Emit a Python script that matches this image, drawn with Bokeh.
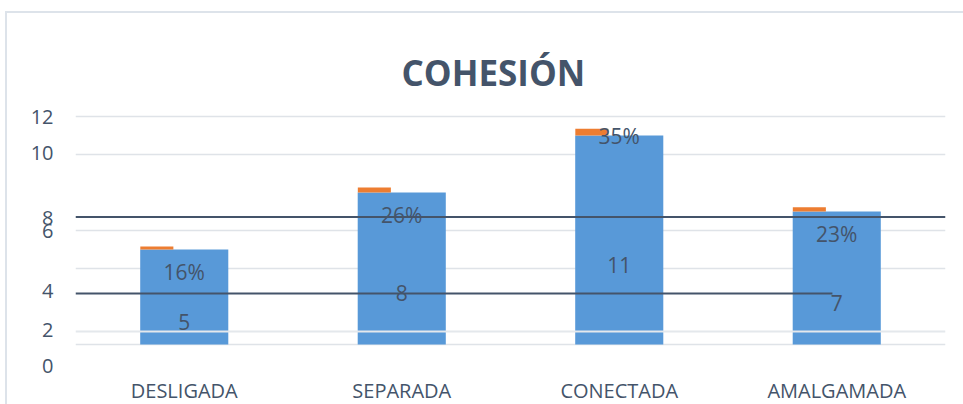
from bokeh.plotting import figure
from bokeh.models import ColumnDataSource, FixedTicker, Span
from bokeh.transform import dodge
from bokeh.core.properties import value
from bokeh.embed import file_html
from bokeh.resources import INLINE

# ---- data ----
categories = ["DESLIGADA", "SEPARADA", "CONECTADA", "AMALGAMADA"]
counts = [5, 8, 11, 7]
percents = [16, 26, 35, 23]
title_text = "COHESIÓN"

# y tick labels (as they appear in the picture) and their positions on the value scale
ytick_labels = ["12", "10", "8", "6", "4", "2", "0"]
ytick_values = [12, 10.08, 6.68, 6, 2.82, 0.76, -1.13]
grid_values = [0, 4, 6, 10, 12]
light_rule_value = 0.684
dark_rule_values = [6.71, 2.68]
dark_rule_ends = [4.0, 3.48]

# ---- styles ----
TEXT = "#44546a"
FONT = "Open Sans"
BLUE = "#5899d8"
ORANGE = "#ed7d31"
GRID = "#dfe3e8"
pct_label_dy = [22, 22, 0, 22]   # px, downwards
count_label_dy = 24.5

src = ColumnDataSource(dict(
    cat=categories,
    count=counts,
    top_pct=[c + q / 100 for c, q in zip(counts, percents)],
    mid=[c / 2 for c in counts],
    count_txt=[str(c) for c in counts],
    pct_txt=[f"{q}%" for q in percents],
    pct_dy=pct_label_dy,
))

p = figure(x_range=categories, y_range=(12.316 - 263 / 19, 12.316),
           frame_width=870, frame_height=263,
           min_border_left=68, min_border_right=18, min_border_bottom=0,
           output_backend="svg", toolbar_location=None)
p.styles = {"border-left": "2px solid #dde3ea", "border-top": "2px solid #dde3ea",
            "margin-top": "11px", "margin-left": "5px"}
p.outline_line_color = None
p.background_fill_color = "white"
p.border_fill_color = "white"

# title
p.title.text = title_text
p.title.align = "left"
p.title.offset = 326
p.title.standoff = 30
p.title.text_color = TEXT
p.title.text_font = FONT
p.title.text_font_style = "bold"
p.title.text_font_size = "35px"
p.min_border_top = 97

# grid
p.xgrid.visible = False
p.ygrid.ticker = FixedTicker(ticks=grid_values)
p.ygrid.grid_line_color = GRID
p.ygrid.grid_line_width = 1.5

# y axis
p.yaxis.ticker = FixedTicker(ticks=ytick_values)
p.yaxis.major_label_overrides = {v: l for v, l in zip(ytick_values, ytick_labels)}
p.yaxis.axis_line_color = None
p.yaxis.major_tick_line_color = None
p.yaxis.minor_tick_line_color = None
p.yaxis.major_tick_out = 0
p.yaxis.major_tick_in = 0
p.yaxis.major_label_standoff = 22
p.yaxis.major_label_text_font = FONT
p.yaxis.major_label_text_font_size = "20px"
p.yaxis.major_label_text_color = TEXT

# x axis
p.xaxis.axis_line_color = None
p.xaxis.major_tick_line_color = None
p.xaxis.major_tick_out = 0
p.xaxis.major_tick_in = 0
p.xaxis.major_label_standoff = 3
p.xaxis.major_label_text_font = FONT
p.xaxis.major_label_text_font_size = "20px"
p.xaxis.major_label_text_color = TEXT

# bars
p.vbar(x="cat", top="count", bottom=0, width=0.405, source=src,
       fill_color=BLUE, line_color=None)
p.vbar(x=dodge("cat", -0.126, range=p.x_range), bottom="count", top="top_pct",
       width=0.152, source=src, fill_color=ORANGE, line_color=None)

# light rule across bars
p.add_layout(Span(location=light_rule_value, dimension="width",
                  line_color="#e4e8ec", line_width=2))

# dark rules
p.segment(x0=[0, 0], x1=dark_rule_ends, y0=dark_rule_values, y1=dark_rule_values,
          line_color=TEXT, line_width=2)

# data labels
p.text(x="cat", y="mid", text="count_txt", source=src, y_offset=count_label_dy,
       text_align="center", text_baseline="middle", text_color=TEXT,
       text_font=value(FONT), text_font_size="21px")
p.text(x="cat", y="count", text="pct_txt", source=src, y_offset="pct_dy",
       text_align="center", text_baseline="middle", text_color=TEXT,
       text_font=value(FONT), text_font_size="21px")

open("out.html", "w").write(file_html(p, INLINE))
